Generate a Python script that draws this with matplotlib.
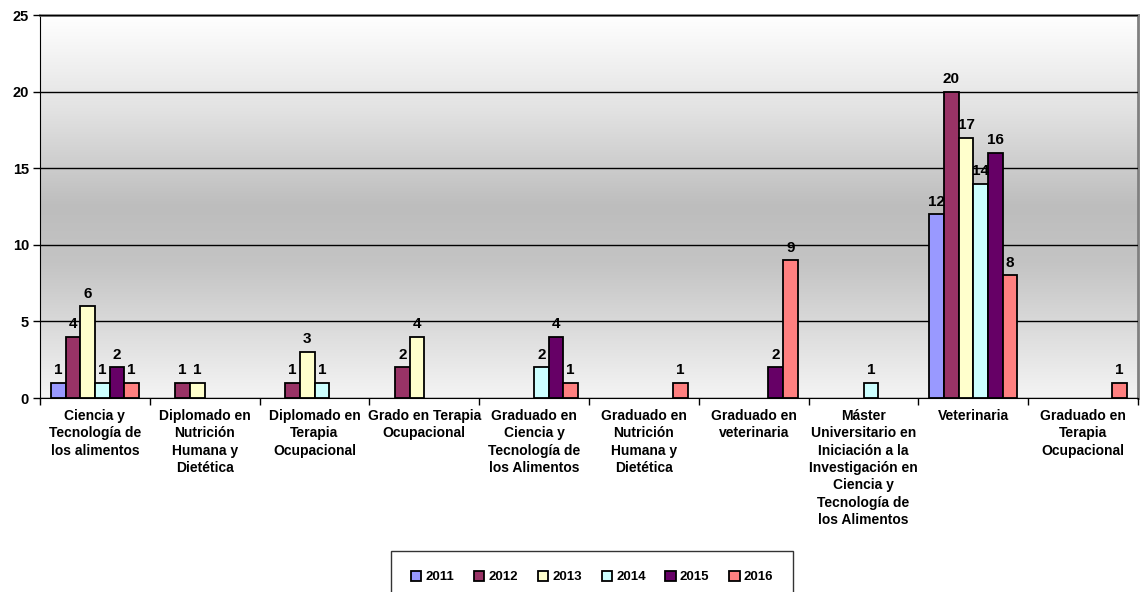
import numpy as np
import matplotlib
matplotlib.use("Agg")
import matplotlib.pyplot as plt
from matplotlib.colors import LinearSegmentedColormap

plt.rcParams['font.family'] = ['Liberation Sans', 'DejaVu Sans']

categories = [
    "Ciencia y\nTecnología de\nlos alimentos",
    "Diplomado en\nNutrición\nHumana y\nDietética",
    "Diplomado en\nTerapia\nOcupacional",
    "Grado en Terapia\nOcupacional",
    "Graduado en\nCiencia y\nTecnología de\nlos Alimentos",
    "Graduado en\nNutrición\nHumana y\nDietética",
    "Graduado en\nveterinaria",
    "Máster\nUniversitario en\nIniciación a la\nInvestigación en\nCiencia y\nTecnología de\nlos Alimentos",
    "Veterinaria",
    "Graduado en\nTerapia\nOcupacional",
]
years = ["2011", "2012", "2013", "2014", "2015", "2016"]
v2011 = [1, 0, 0, 0, 0, 0, 0, 0, 12, 0]
v2012 = [4, 1, 1, 2, 0, 0, 0, 0, 20, 0]
v2013 = [6, 1, 3, 4, 0, 0, 0, 0, 17, 0]
v2014 = [1, 0, 1, 0, 2, 0, 0, 1, 14, 0]
v2015 = [2, 0, 0, 0, 4, 0, 2, 0, 16, 0]
v2016 = [1, 0, 0, 0, 1, 1, 9, 0, 8, 1]
series = [v2011, v2012, v2013, v2014, v2015, v2016]
colors = ["#9999FF", "#993366", "#FFFFCC", "#CCFFFF", "#660066", "#FF8080"]

fig = plt.figure(figsize=(11.4, 5.92), dpi=100)
ax = fig.add_axes([40/1140, 194/592, 1098/1140, 383/592])

n = len(categories)
x = np.arange(n)
group_w = 0.8
bw = group_w / len(series)

# gradient background
cmap = LinearSegmentedColormap.from_list(
    "bg", [(0.0, "#f4f4f4"), (0.35, "#c4c4c4"), (0.5, "#bdbdbd"), (0.75, "#e2e2e2"), (1.0, "#ffffff")])
grad = np.linspace(0, 1, 256).reshape(-1, 1)
ax.imshow(grad, aspect='auto', cmap=cmap, origin='lower',
          extent=[-0.5, n - 0.5, 0, 25], zorder=0)

for i, (vals, c, yr) in enumerate(zip(series, colors, years)):
    pos = x - group_w / 2 + bw * (i + 0.5)
    vals = np.asarray(vals, dtype=float)
    mask = vals > 0
    ax.bar(pos[mask], vals[mask], width=bw, color=c, edgecolor="black", linewidth=1.3,
           label=yr, zorder=3)
    for p, v in zip(pos[mask], vals[mask]):
        ax.annotate(str(int(v)), (p, v), xytext=(0, 4), textcoords="offset points",
                    ha="center", va="bottom", fontsize=11, fontweight="bold", zorder=4)

ax.set_xlim(-0.5, n - 0.5)
ax.set_ylim(0, 25)
ax.set_yticks([0, 5, 10, 15, 20, 25])
ax.yaxis.grid(True, color="black", linewidth=1.0, zorder=1)
ax.set_axisbelow(False)
for t in ax.get_yticklabels():
    t.set_fontweight("bold")
ax.tick_params(axis='y', labelsize=10.5, length=5, width=1, direction='out', pad=3)

ax.set_xticks(x)
ax.set_xticklabels(categories, fontsize=10, fontweight="bold", linespacing=1.3, va="top")
ax.set_xticks(np.arange(n + 1) - 0.5, minor=True)
ax.tick_params(axis='x', which='major', length=0, pad=8)
ax.tick_params(axis='x', which='minor', length=5, width=1, direction='out')

ax.spines['left'].set_color('black')
ax.spines['bottom'].set_color('black')
ax.spines['top'].set_color('#808080')
ax.spines['right'].set_color('#808080')
ax.spines['top'].set_linewidth(2)
ax.spines['right'].set_linewidth(2)

leg = fig.legend(loc="upper center", bbox_to_anchor=(592/1140, 1 - 551/592), ncol=6,
                 prop={'weight': 'bold', 'size': 9.5}, frameon=True, fancybox=False,
                 edgecolor="black", handlelength=0.8, handleheight=0.8, handletextpad=0.3,
                 columnspacing=1.5, borderpad=1.5, borderaxespad=0)
leg.get_frame().set_linewidth(1)

fig.savefig("out.png", dpi=100)
